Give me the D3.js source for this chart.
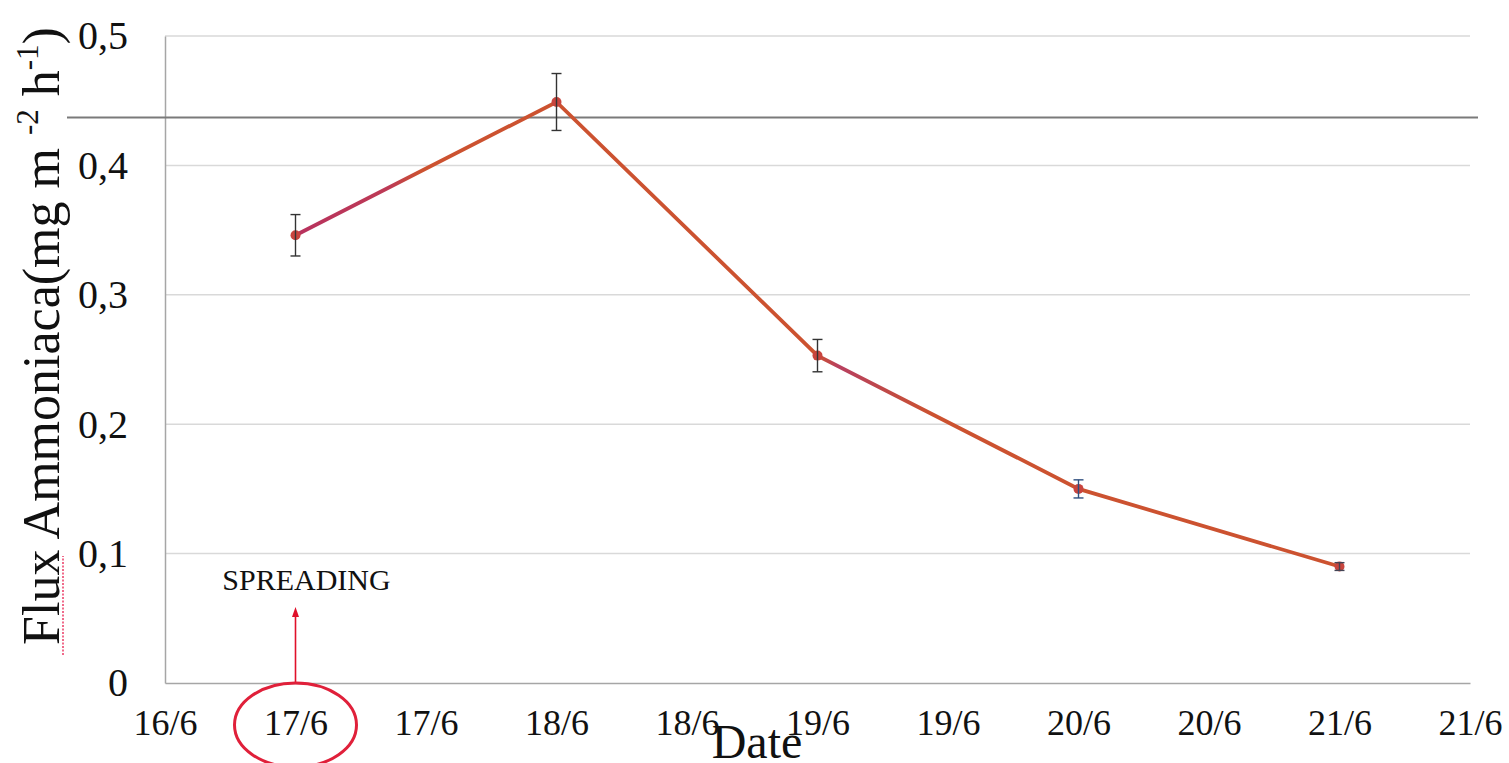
<!DOCTYPE html>
<html>
<head>
<meta charset="utf-8">
<script src="https://cdn.jsdelivr.net/npm/d3@7"></script>
<style>
  body { margin: 0; background: #fff; }
  svg { display: block; font-family: "Liberation Serif", "Times New Roman", serif; }
</style>
</head>
<body>
<div id="chart"></div>
<script>
// sampling dates (June), values and error bars
var dates = ["2000-06-17", "2000-06-18", "2000-06-19", "2000-06-20", "2000-06-21"];
var flux = [0.346, 0.449, 0.253, 0.150, 0.090];
var errs = [0.016, 0.022, 0.0125, 0.007, 0.003];
var errColors = ["#333", "#333", "#333", "#2f4f7f", "#445"];
var yTicks = [0, 0.1, 0.2, 0.3, 0.4, 0.5];
var refLine = 0.437;   // dark horizontal line across the plot
var spreadDate = "2000-06-17";

var parse = d3.timeParse("%Y-%m-%d");
var data = dates.map(function (d, i) {
  return { date: parse(d), value: flux[i], err: errs[i], ec: errColors[i] };
});

var W = 1509, H = 763;
var margin = {top: 36, right: 39, bottom: 80, left: 165},
    width = W - margin.left - margin.right,
    height = H - margin.top - margin.bottom;

var svg = d3.select("#chart").append("svg")
    .attr("width", W)
    .attr("height", H);

var g = svg.append("g")
    .attr("transform", "translate(" + margin.left + "," + margin.top + ")");

// x: half-day steps from 16/6 noon to 21/6 noon
var x = d3.scaleTime()
    .domain([new Date(2000, 5, 16, 12), new Date(2000, 5, 21, 12)])
    .range([0, width]);

var y = d3.scaleLinear()
    .domain([0, 0.5])
    .range([height, 0]);

// gridlines
g.selectAll(".grid")
  .data(yTicks.filter(function (t) { return t > 0; }))
  .enter().append("line")
    .attr("x1", 0).attr("x2", width)
    .attr("y1", function (d) { return y(d); })
    .attr("y2", function (d) { return y(d); })
    .attr("stroke", "#d9d9d9")
    .attr("stroke-width", 1.5);

// axes
var yAxis = g.append("g")
    .call(d3.axisLeft(y).tickValues(yTicks).tickSize(0).tickPadding(37)
      .tickFormat(function (d) { return d === 0 ? "0" : d3.format(".1f")(d).replace(".", ","); }));
yAxis.select(".domain").attr("stroke", "#a6a6a6").attr("stroke-width", 1.5);
yAxis.selectAll("text")
    .attr("font-size", 40)
    .attr("font-family", "Liberation Serif")
    .attr("fill", "#111");

var xAxis = g.append("g")
    .attr("transform", "translate(0," + height + ")")
    .call(d3.axisBottom(x).ticks(d3.timeHour.every(12)).tickSize(0).tickPadding(26)
      .tickFormat(d3.timeFormat("%-d/%-m")));
xAxis.select(".domain").attr("stroke", "#a6a6a6").attr("stroke-width", 1.5);
xAxis.selectAll("text")
    .attr("font-size", 36)
    .attr("font-family", "Liberation Serif")
    .attr("fill", "#111");

// dark reference line
g.append("line")
    .attr("x1", -98).attr("x2", width + 8)
    .attr("y1", y(refLine)).attr("y2", y(refLine))
    .attr("stroke", "#7a7a7a")
    .attr("stroke-width", 1.8);

// the flux line (magenta trace partly showing under the orange one)
var line = d3.line()
    .x(function (d) { return x(d.date); })
    .y(function (d) { return y(d.value); });

var grad = svg.append("defs").append("linearGradient")
    .attr("id", "fluxGrad")
    .attr("gradientUnits", "userSpaceOnUse")
    .attr("x1", x(data[0].date)).attr("x2", x(data[data.length - 1].date))
    .attr("y1", 0).attr("y2", 0);
grad.selectAll("stop")
  .data([["0", "#b8325e"], ["0.09", "#bd3a55"], ["0.12", "#cc5230"], ["0.5", "#cc5230"],
         ["0.52", "#b84060"], ["0.57", "#c04a45"], ["0.61", "#cc5230"], ["1", "#cc5230"]])
  .enter().append("stop")
    .attr("offset", function (d) { return d[0]; })
    .attr("stop-color", function (d) { return d[1]; });

g.append("path")
    .datum(data)
    .attr("fill", "none")
    .attr("stroke", "url(#fluxGrad)")
    .attr("stroke-width", 3.8)
    .attr("d", line);

g.selectAll(".pt")
  .data(data)
  .enter().append("circle")
    .attr("cx", function (d) { return x(d.date); })
    .attr("cy", function (d) { return y(d.value); })
    .attr("r", 5)
    .attr("fill", "#c9453e");

// error bars
var eb = g.selectAll(".eb").data(data).enter().append("g")
    .attr("stroke", function (d) { return d.ec; })
    .attr("stroke-width", 1.4);
eb.append("line")
    .attr("x1", function (d) { return x(d.date); })
    .attr("x2", function (d) { return x(d.date); })
    .attr("y1", function (d) { return y(d.value - d.err); })
    .attr("y2", function (d) { return y(d.value + d.err); });
eb.append("line")
    .attr("x1", function (d) { return x(d.date) - 5; })
    .attr("x2", function (d) { return x(d.date) + 5; })
    .attr("y1", function (d) { return y(d.value + d.err); })
    .attr("y2", function (d) { return y(d.value + d.err); });
eb.append("line")
    .attr("x1", function (d) { return x(d.date) - 5; })
    .attr("x2", function (d) { return x(d.date) + 5; })
    .attr("y1", function (d) { return y(d.value - d.err); })
    .attr("y2", function (d) { return y(d.value - d.err); });

// spreading annotation
var sx = x(parse(spreadDate));
g.append("text")
    .attr("x", sx + 11)
    .attr("y", y(0.1) + 36)
    .attr("text-anchor", "middle")
    .attr("font-size", 30)
    .attr("fill", "#111")
    .text("SPREADING");
g.append("line")
    .attr("x1", sx).attr("x2", sx)
    .attr("y1", height).attr("y2", height - 70)
    .attr("stroke", "#e0102a")
    .attr("stroke-width", 1.6);
g.append("path")
    .attr("d", "M" + (sx - 3.5) + "," + (height - 66) + "L" + sx + "," + (height - 76) + "L" + (sx + 3.5) + "," + (height - 66) + "Z")
    .attr("fill", "#e0102a");
g.append("ellipse")
    .attr("cx", sx)
    .attr("cy", height + 42)
    .attr("rx", 61)
    .attr("ry", 42)
    .attr("fill", "none")
    .attr("stroke", "#e0203a")
    .attr("stroke-width", 3);

// axis titles
svg.append("text")
    .attr("x", 757)
    .attr("y", 758)
    .attr("text-anchor", "middle")
    .attr("font-size", 48)
    .attr("fill", "#111")
    .text("Date");

var yl = svg.append("text")
    .attr("transform", "translate(59,336) rotate(-90)")
    .attr("text-anchor", "middle")
    .attr("font-size", 52)
    .attr("fill", "#111");
yl.append("tspan").text("Flux Ammoniaca(mg m ");
yl.append("tspan").attr("font-size", 31).attr("dy", -21).text("-2");
yl.append("tspan").attr("dy", 21).text(" h");
yl.append("tspan").attr("font-size", 31).attr("dy", -21).text("-1");
yl.append("tspan").attr("dy", 21).text(")");

// spell-check squiggle under "Flux"
svg.append("line")
    .attr("x1", 63).attr("x2", 63)
    .attr("y1", 655).attr("y2", 556)
    .attr("stroke", "#f06a8a")
    .attr("stroke-width", 2)
    .attr("stroke-dasharray", "2,1.5");
</script>
</body>
</html>
